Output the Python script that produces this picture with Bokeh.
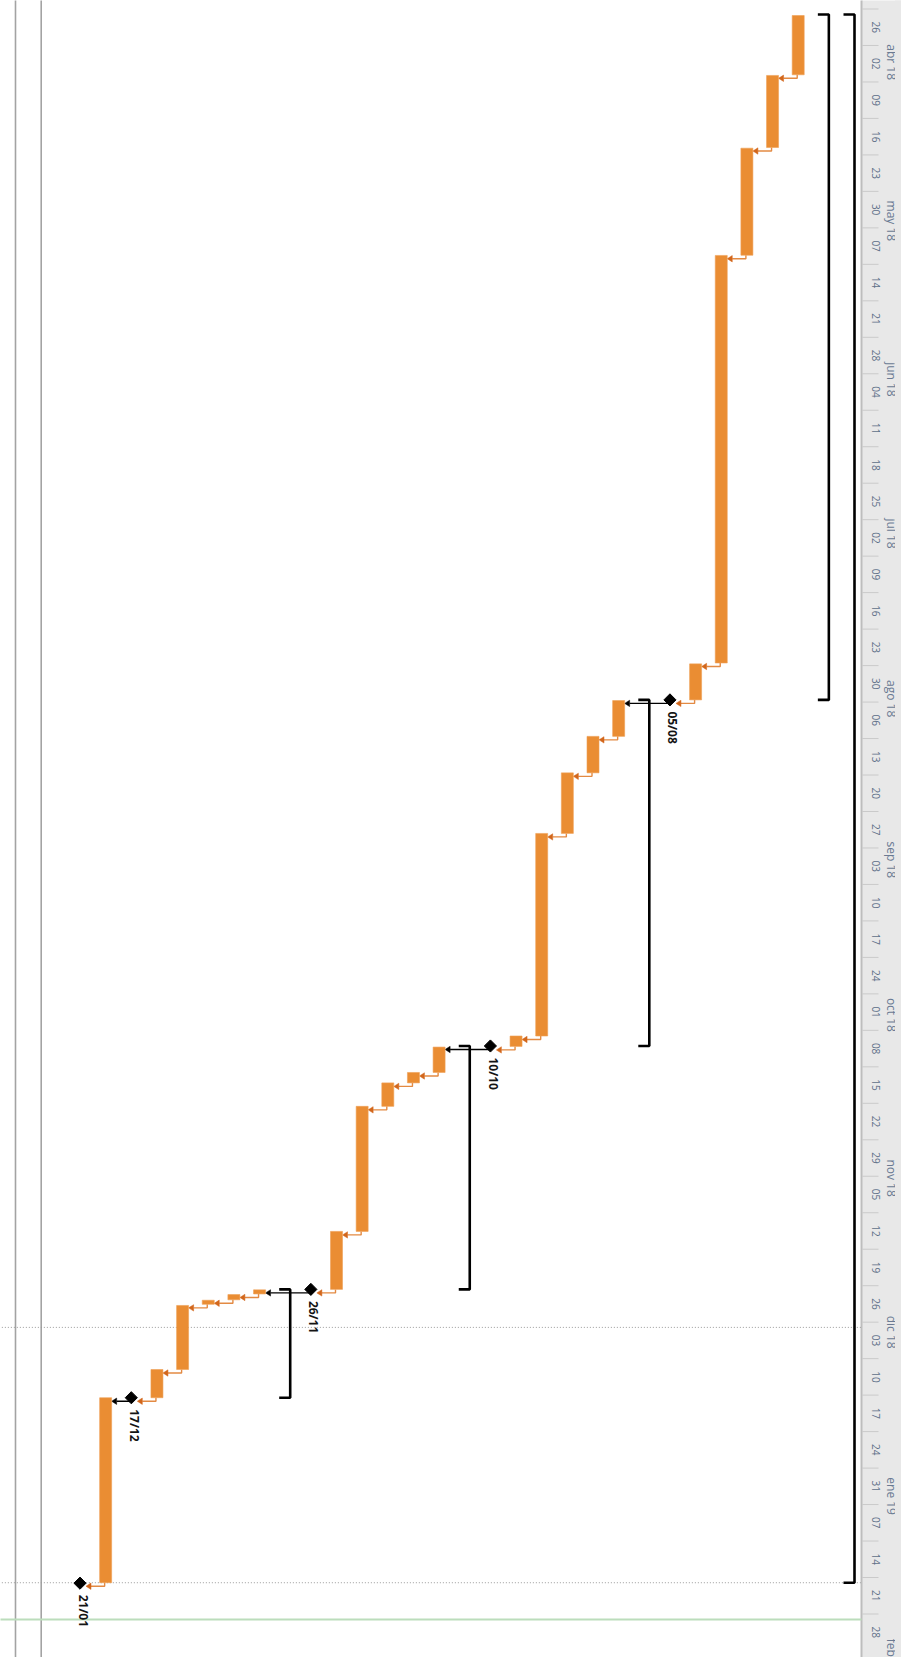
import numpy as np
import pandas as pd
from bokeh.plotting import figure
from bokeh.models import Range1d
from bokeh.embed import file_html
from bokeh.resources import INLINE
from bokeh.core.properties import value

# ---------------- data ----------------
ORIGIN = pd.Timestamp("2018-03-26")

summary_rows = [0, 1, 8, 15, 22]
summary_start = ["2018-03-27 01:00", "2018-03-27 01:00", "2018-08-05 14:00",
                 "2018-10-11 00:00", "2018-11-26 17:00"]
summary_finish = ["2019-01-22 00:00", "2018-08-05 14:00", "2018-10-11 00:00",
                  "2018-11-26 17:00", "2018-12-17 12:00"]

task_rows = [2, 3, 4, 5, 6, 9, 10, 11, 12, 13, 16, 17, 18, 19, 20, 23, 24, 25, 26, 27, 29]
task_start = ["2018-03-27 06:00", "2018-04-07 18:00", "2018-04-21 17:00", "2018-05-12 07:00",
              "2018-07-29 16:00", "2018-08-05 17:00", "2018-08-12 14:00", "2018-08-19 14:00",
              "2018-08-31 05:00", "2018-10-09 02:00", "2018-10-11 05:00", "2018-10-16 02:00",
              "2018-10-18 02:00", "2018-10-22 14:00", "2018-11-15 14:00", "2018-11-26 19:00",
              "2018-11-27 17:00", "2018-11-28 19:00", "2018-11-29 19:00", "2018-12-12 02:00",
              "2018-12-17 12:00"]
task_finish = ["2018-04-07 15:00", "2018-04-21 14:00", "2018-05-12 06:00", "2018-07-29 12:00",
               "2018-08-05 14:00", "2018-08-12 14:00", "2018-08-19 14:00", "2018-08-31 05:00",
               "2018-10-09 02:00", "2018-10-11 02:00", "2018-10-16 02:00", "2018-10-18 02:00",
               "2018-10-22 14:00", "2018-11-15 14:00", "2018-11-26 17:00", "2018-11-27 14:00",
               "2018-11-28 17:00", "2018-11-29 14:00", "2018-12-12 02:00", "2018-12-17 12:00",
               "2019-01-22 00:00"]

milestone_rows = [7, 14, 21, 28, 30]
milestone_date = ["2018-08-05 14:00", "2018-10-11 00:00", "2018-11-26 17:00",
                  "2018-12-17 12:00", "2019-01-22 02:00"]
milestone_labels = ["05/08", "10/10", "26/11", "17/12", "21/01"]

links = [(2, 3), (3, 4), (4, 5), (5, 6), (6, 7), (7, 9), (9, 10), (10, 11), (11, 12),
         (12, 13), (13, 14), (14, 16), (16, 17), (17, 18), (18, 19), (19, 20), (20, 21),
         (21, 23), (23, 24), (24, 25), (25, 26), (26, 27), (27, 28), (28, 29), (29, 30)]

week_labels = ["26", "02", "09", "16", "23", "30", "07", "14", "21", "28", "04", "11", "18",
               "25", "02", "09", "16", "23", "30", "06", "13", "20", "27", "03", "10", "17",
               "24", "01", "08", "15", "22", "29", "05", "12", "19", "26", "03", "10", "17",
               "24", "31", "07", "14", "21", "28"]
month_labels = ["abr 18", "may 18", "jun 18", "jul 18", "ago 18", "sep 18", "oct 18",
                "nov 18", "dic 18", "ene 19", "feb 19"]

dotted_dates = ["2018-12-04 00:00", "2019-01-22 00:00"]
current_date = "2019-01-29 01:00"

# ---------------- helpers ----------------
ROW_PX = 25.65      # pixels per row
PXD = 5.211         # pixels per day
Y0_PX = 8.5         # pixel of ORIGIN


def days(s):
    return (pd.Timestamp(s) - ORIGIN) / pd.Timedelta(days=1)


def px2r(px):
    return (849.0 - px) / ROW_PX


W, H = 901, 1657
X0, X1 = px2r(0), px2r(W)
Y_TOP = -Y0_PX / PXD
Y_BOT = (H - Y0_PX) / PXD

p = figure(width=W, height=H, x_range=Range1d(X0, X1), y_range=Range1d(Y_BOT, Y_TOP),
           output_backend="svg", toolbar_location=None, min_border=0,
           x_axis_location=None, y_axis_location=None, outline_line_color=None,
           background_fill_color="white", border_fill_color="white")
p.grid.visible = False

HDR_L = px2r(861)
# header band
p.quad(left=[HDR_L], right=[X1 - 1], top=[Y_TOP - 1], bottom=[Y_BOT + 1],
       fill_color="#E8E8E8", line_color=None)

week_start = pd.date_range("2018-03-26", periods=len(week_labels), freq="7D")
wd = np.array([(d - ORIGIN) / pd.Timedelta(days=1) for d in week_start])
p.segment(x0=[px2r(862)] * len(wd), x1=[px2r(878)] * len(wd), y0=wd, y1=wd,
          line_color="#CACACA", line_width=1)
p.text(x=[px2r(875)] * len(wd), y=wd + 3.5, text=week_labels, angle=-np.pi / 2,
       text_align="center", text_baseline="middle", text_font=value("Open Sans"),
       text_font_size="10px", text_color="#5F7089")

month_start = pd.date_range("2018-04-01", periods=len(month_labels), freq="MS")
md = np.array([(d - ORIGIN) / pd.Timedelta(days=1) for d in month_start])
p.text(x=[px2r(891)] * len(md), y=md + 4 / PXD, text=month_labels, angle=-np.pi / 2,
       text_align="left", text_baseline="middle", text_font=value("Open Sans"),
       text_font_size="12px", text_color="#6A7A93")
# the upper part of the month tier is scrolled out of view
p.quad(left=[px2r(894.5)], right=[X1 - 1], top=[Y_TOP - 1], bottom=[Y_BOT + 1],
       fill_color="#E8E8E8", line_color=None)
p.segment(x0=[HDR_L], x1=[HDR_L], y0=[Y_TOP - 1], y1=[Y_BOT + 1],
          line_color="#BDBDBD", line_width=2)

# left gray lines
p.segment(x0=[px2r(15), px2r(40.7)], x1=[px2r(15), px2r(40.7)], y0=[Y_TOP - 1] * 2,
          y1=[Y_BOT + 1] * 2, line_color="#A3A3A3", line_width=1.6)

# dotted lines and current date line
dd = [days(s) for s in dotted_dates]
p.segment(x0=[X0 + 1] * len(dd), x1=[HDR_L] * len(dd), y0=dd, y1=dd,
          line_color="#9A9A9A", line_width=1, line_dash="1 2")
cd = days(current_date)
p.segment(x0=[X0 + 1], x1=[HDR_L], y0=[cd], y1=[cd], line_color="#BCDDBC", line_width=2)

# summary brackets
xs, ys = [], []
for r, s, f in zip(summary_rows, summary_start, summary_finish):
    a, b = days(s), days(f)
    left, right = r + 6 / ROW_PX, r - 5 / ROW_PX
    xs.append([left, right, right, left])
    ys.append([a, a, b, b])
p.multi_line(xs=xs, ys=ys, line_color="black", line_width=2.6)

# finish lookup
finish = {}
for r, f in zip(task_rows, task_finish):
    finish[r] = ("task", days(f))
for r, d in zip(milestone_rows, milestone_date):
    finish[r] = ("ms", days(d))

DROP = 3.5 / PXD
AH = 3.2 / PXD
o_xs, o_ys, b_xs, b_ys = [], [], [], []
oa_xs, oa_ys, ba_xs, ba_ys = [], [], [], []
for a, b in links:
    kind, e = finish[a]
    y = e + DROP
    tip = b - 6 / ROW_PX
    base = b - 11 / ROW_PX
    if kind == "task":
        sx = a + 1 / ROW_PX
        o_xs.append([sx, sx, base])
        o_ys.append([e, y, y])
        oa_xs.append([tip, base, base])
        oa_ys.append([y, y - AH, y + AH])
    else:
        b_xs.append([a, base])
        b_ys.append([y, y])
        ba_xs.append([tip, base, base])
        ba_ys.append([y, y - AH, y + AH])

p.multi_line(xs=o_xs, ys=o_ys, line_color="#E38A43", line_width=1.4)
p.multi_line(xs=b_xs, ys=b_ys, line_color="black", line_width=1.3)
p.patches(xs=oa_xs, ys=oa_ys, fill_color="#D2661B", line_color="#D2661B", line_width=0.5)
p.patches(xs=ba_xs, ys=ba_ys, fill_color="black", line_color="black", line_width=0.5)

# task bars
tr = np.array(task_rows, dtype=float)
p.quad(left=tr + 6 / ROW_PX, right=tr - 6 / ROW_PX,
       top=[days(s) for s in task_start], bottom=[days(f) for f in task_finish],
       fill_color="#EA8D33", line_color="#EE9F55", line_width=0.6)

# milestones
mr = np.array(milestone_rows, dtype=float)
mdays = np.array([days(d) for d in milestone_date])
p.scatter(x=mr, y=mdays, marker="square", angle=np.pi / 4, size=8.6,
          fill_color="black", line_color="black")
p.text(x=mr - 3 / ROW_PX, y=mdays + 11.5 / PXD, text=milestone_labels, angle=-np.pi / 2,
       text_align="left", text_baseline="middle", text_font=value("Open Sans"),
       text_font_style="bold", text_font_size="12px", text_color="#141414")

open("out.html", "w").write(file_html(p, INLINE))
